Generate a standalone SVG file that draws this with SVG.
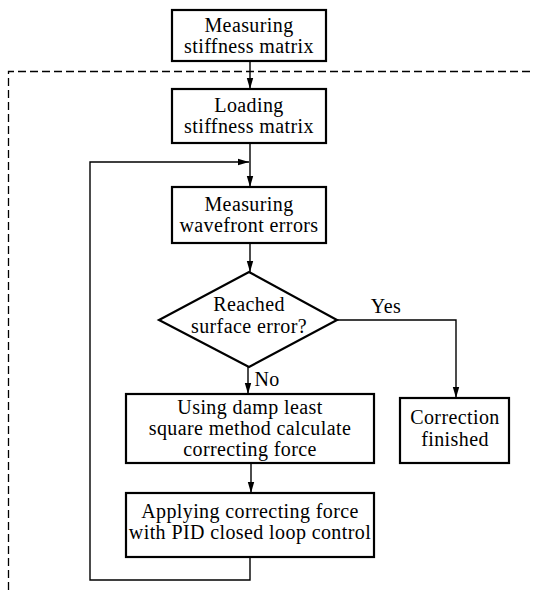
<svg xmlns="http://www.w3.org/2000/svg" width="533" height="590" viewBox="0 0 533 590">
<style>
.box{fill:#fff;stroke:#000;stroke-width:2.2}
.ln{fill:none;stroke:#000;stroke-width:1.4}
.dash{fill:none;stroke:#000;stroke-width:1.3;stroke-dasharray:8,4}
text{font-family:"Liberation Serif","Times New Roman",serif;font-size:20px;letter-spacing:0.4px;fill:#000;text-anchor:middle}
</style>
<defs>
<marker id="ah" markerWidth="12" markerHeight="8" refX="11" refY="4" orient="auto" markerUnits="userSpaceOnUse">
<path d="M0,0.8 L11,4 L0,7.2 Z" fill="#000"/>
</marker>
</defs>
<rect width="533" height="590" fill="#fff"/>
<g id="boundary">
<path class="dash" d="M8.5,590 V71.5 H533"/>
</g>
<g id="connectors">
<line class="ln" x1="250" y1="61" x2="250" y2="89" marker-end="url(#ah)"/>
<line class="ln" x1="250" y1="143" x2="250" y2="187" marker-end="url(#ah)"/>
<line class="ln" x1="250" y1="243" x2="250" y2="272" marker-end="url(#ah)"/>
<line class="ln" x1="248" y1="367" x2="248" y2="394" marker-end="url(#ah)"/>
<path class="ln" d="M337,320 H456 V398" marker-end="url(#ah)"/>
<line class="ln" x1="251" y1="463" x2="251" y2="493" marker-end="url(#ah)"/>
<path class="ln" d="M250,557 V580 H90 V162 H249" marker-end="url(#ah)"/>
<text x="386" y="313">Yes</text>
<text x="267" y="386">No</text>
</g>
<g id="n1">
<rect class="box" x="172" y="10" width="154" height="51"/>
<text x="249" y="32">Measuring</text>
<text x="249" y="53">stiffness matrix</text>
</g>
<g id="n2">
<rect class="box" x="172" y="89" width="154" height="54"/>
<text x="249" y="112">Loading</text>
<text x="249" y="133">stiffness matrix</text>
</g>
<g id="n3">
<rect class="box" x="172" y="187" width="154" height="56"/>
<text x="249" y="211">Measuring</text>
<text x="249" y="232">wavefront errors</text>
</g>
<g id="n4">
<path class="box" d="M249,272 L337,320 L249,367 L159,320 Z"/>
<text x="249" y="311">Reached</text>
<text x="249" y="333">surface error?</text>
</g>
<g id="n5">
<rect class="box" x="126" y="394" width="248" height="69"/>
<text x="250" y="414">Using damp least</text>
<text x="250" y="435">square method calculate</text>
<text x="250" y="456">correcting force</text>
</g>
<g id="n6">
<rect class="box" x="400" y="398" width="109" height="65"/>
<text x="455" y="424">Correction</text>
<text x="455" y="446">finished</text>
</g>
<g id="n7">
<rect class="box" x="126" y="493" width="248" height="64"/>
<text x="250" y="518">Applying correcting force</text>
<text x="250" y="539">with PID closed loop control</text>
</g>
</svg>
